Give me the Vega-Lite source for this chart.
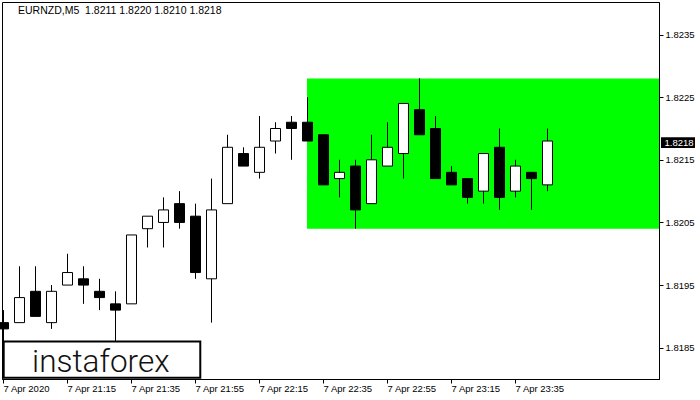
{
  "$schema": "https://vega.github.io/schema/vega-lite/v6.json",
  "width": 657,
  "height": 377,
  "autosize": {"type": "none"},
  "padding": {"left": 2, "top": 2, "right": 41, "bottom": 21},
  "background": "white",
  "config": {
    "view": {"stroke": "black", "strokeWidth": 1},
    "axis": {"domainColor": "black", "tickColor": "black", "labelColor": "black", "labelFont": "Liberation Sans", "labelFontSize": 9.5, "grid": false, "tickWidth": 1, "domainWidth": 1}
  },
  "layer": [
    {
      "data": {"values": [{"t0": "2020-04-07T22:30:00Z", "t1": "2020-04-08T00:20:00Z", "p0": 1.8204, "p1": 1.8228}]},
      "mark": {"type": "rect", "fill": "#00ff00", "strokeWidth": 0},
      "encoding": {
        "x": {
          "field": "t0", "type": "temporal", "title": null,
          "scale": {"type": "utc", "padding": 0, "domain": [
            {"year": 2020, "month": 4, "date": 7, "hours": 20, "minutes": 54, "seconds": 41, "milliseconds": 250, "utc": true},
            {"year": 2020, "month": 4, "date": 8, "hours": 0, "minutes": 20, "seconds": 0, "utc": true}
          ]},
          "axis": {
            "orient": "bottom",
            "values": [
              {"year": 2020, "month": 4, "date": 7, "hours": 20, "minutes": 55, "utc": true},
              {"year": 2020, "month": 4, "date": 7, "hours": 21, "minutes": 15, "utc": true},
              {"year": 2020, "month": 4, "date": 7, "hours": 21, "minutes": 35, "utc": true},
              {"year": 2020, "month": 4, "date": 7, "hours": 21, "minutes": 55, "utc": true},
              {"year": 2020, "month": 4, "date": 7, "hours": 22, "minutes": 15, "utc": true},
              {"year": 2020, "month": 4, "date": 7, "hours": 22, "minutes": 35, "utc": true},
              {"year": 2020, "month": 4, "date": 7, "hours": 22, "minutes": 55, "utc": true},
              {"year": 2020, "month": 4, "date": 7, "hours": 23, "minutes": 15, "utc": true},
              {"year": 2020, "month": 4, "date": 7, "hours": 23, "minutes": 35, "utc": true}
            ],
            "labelExpr": "utcFormat(datum.value, '%H:%M') == '20:55' ? '7 Apr 2020' : utcFormat(datum.value, '%-d %b %H:%M')",
            "tickSize": 4,
            "labelAlign": "left",
            "labelBaseline": "top",
            "labelPadding": 0,
            "labelFlush": false,
            "labelOverlap": false
          }
        },
        "x2": {"field": "t1"},
        "y": {
          "field": "p0", "type": "quantitative", "title": null,
          "scale": {"domain": [1.818, 1.82402], "nice": false, "zero": false, "padding": 0},
          "axis": {
            "orient": "right",
            "values": [1.8185, 1.8195, 1.8205, 1.8215, 1.8225, 1.8235],
            "format": ".4f",
            "tickSize": 4,
            "labelPadding": 2,
            "labelAlign": "left",
            "labelOverlap": false,
            "labelFlush": false
          }
        },
        "y2": {"field": "p1"}
      }
    },
    {
      "mark": {"type": "rule", "color": "black", "strokeWidth": 1},
      "encoding": {"y": {"datum": 1.8218}}
    },
    {
      "data": {"name": "candles", "values": [
        {"t": "2020-04-07T20:55:00Z", "o": 1.8189, "h": 1.8191, "l": 1.8186, "c": 1.8188},
        {"t": "2020-04-07T21:00:00Z", "o": 1.8189, "h": 1.8198, "l": 1.8189, "c": 1.8193},
        {"t": "2020-04-07T21:05:00Z", "o": 1.8194, "h": 1.8198, "l": 1.8190, "c": 1.8190},
        {"t": "2020-04-07T21:10:00Z", "o": 1.8189, "h": 1.8195, "l": 1.8188, "c": 1.8194},
        {"t": "2020-04-07T21:15:00Z", "o": 1.8195, "h": 1.8200, "l": 1.8195, "c": 1.8197},
        {"t": "2020-04-07T21:20:00Z", "o": 1.8196, "h": 1.8198, "l": 1.8192, "c": 1.8195},
        {"t": "2020-04-07T21:25:00Z", "o": 1.8194, "h": 1.8196, "l": 1.8191, "c": 1.8193},
        {"t": "2020-04-07T21:30:00Z", "o": 1.8192, "h": 1.8194, "l": 1.8185, "c": 1.8191},
        {"t": "2020-04-07T21:35:00Z", "o": 1.8192, "h": 1.8203, "l": 1.8192, "c": 1.8203},
        {"t": "2020-04-07T21:40:00Z", "o": 1.8204, "h": 1.8206, "l": 1.8201, "c": 1.8206},
        {"t": "2020-04-07T21:45:00Z", "o": 1.8205, "h": 1.8209, "l": 1.8201, "c": 1.8207},
        {"t": "2020-04-07T21:50:00Z", "o": 1.8208, "h": 1.8210, "l": 1.8204, "c": 1.8205},
        {"t": "2020-04-07T21:55:00Z", "o": 1.8206, "h": 1.8208, "l": 1.8196, "c": 1.8197},
        {"t": "2020-04-07T22:00:00Z", "o": 1.8196, "h": 1.8212, "l": 1.8189, "c": 1.8207},
        {"t": "2020-04-07T22:05:00Z", "o": 1.8208, "h": 1.8219, "l": 1.8208, "c": 1.8217},
        {"t": "2020-04-07T22:10:00Z", "o": 1.8216, "h": 1.8217, "l": 1.8214, "c": 1.8214},
        {"t": "2020-04-07T22:15:00Z", "o": 1.8213, "h": 1.8222, "l": 1.8212, "c": 1.8217},
        {"t": "2020-04-07T22:20:00Z", "o": 1.8218, "h": 1.8221, "l": 1.8216, "c": 1.8220},
        {"t": "2020-04-07T22:25:00Z", "o": 1.8221, "h": 1.8222, "l": 1.8215, "c": 1.8220},
        {"t": "2020-04-07T22:30:00Z", "o": 1.8221, "h": 1.8225, "l": 1.8218, "c": 1.8218},
        {"t": "2020-04-07T22:35:00Z", "o": 1.8219, "h": 1.8219, "l": 1.8211, "c": 1.8211},
        {"t": "2020-04-07T22:40:00Z", "o": 1.8212, "h": 1.8215, "l": 1.8209, "c": 1.8213},
        {"t": "2020-04-07T22:45:00Z", "o": 1.8214, "h": 1.8215, "l": 1.8204, "c": 1.8207},
        {"t": "2020-04-07T22:50:00Z", "o": 1.8208, "h": 1.8219, "l": 1.8208, "c": 1.8215},
        {"t": "2020-04-07T22:55:00Z", "o": 1.8214, "h": 1.8221, "l": 1.8214, "c": 1.8217},
        {"t": "2020-04-07T23:00:00Z", "o": 1.8216, "h": 1.8224, "l": 1.8212, "c": 1.8224},
        {"t": "2020-04-07T23:05:00Z", "o": 1.8223, "h": 1.8228, "l": 1.8219, "c": 1.8219},
        {"t": "2020-04-07T23:10:00Z", "o": 1.8220, "h": 1.8222, "l": 1.8212, "c": 1.8212},
        {"t": "2020-04-07T23:15:00Z", "o": 1.8213, "h": 1.8214, "l": 1.8211, "c": 1.8211},
        {"t": "2020-04-07T23:20:00Z", "o": 1.8212, "h": 1.8212, "l": 1.8208, "c": 1.8209},
        {"t": "2020-04-07T23:25:00Z", "o": 1.8210, "h": 1.8216, "l": 1.8208, "c": 1.8216},
        {"t": "2020-04-07T23:30:00Z", "o": 1.8217, "h": 1.8220, "l": 1.8207, "c": 1.8209},
        {"t": "2020-04-07T23:35:00Z", "o": 1.8210, "h": 1.8215, "l": 1.8209, "c": 1.8214},
        {"t": "2020-04-07T23:40:00Z", "o": 1.8213, "h": 1.8213, "l": 1.8207, "c": 1.8212},
        {"t": "2020-04-07T23:45:00Z", "o": 1.8211, "h": 1.8220, "l": 1.8210, "c": 1.8218}
      ]},
      "layer": [
        {
          "mark": {"type": "rule", "color": "black", "strokeWidth": 1, "xOffset": 0.5},
          "encoding": {
            "x": {"field": "t", "type": "temporal"},
            "y": {"field": "l", "type": "quantitative"},
            "y2": {"field": "h"}
          }
        },
        {
          "mark": {"type": "bar", "width": 10, "stroke": "black", "strokeWidth": 1, "xOffset": 0.5},
          "encoding": {
            "x": {"field": "t", "type": "temporal"},
            "y": {"field": "o", "type": "quantitative"},
            "y2": {"field": "c"},
            "fill": {"condition": {"test": "datum.c >= datum.o", "value": "white"}, "value": "black"}
          }
        }
      ]
    },
    {
      "data": {"values": [{"t0": "2020-04-07T20:55:13Z", "t1": "2020-04-07T21:56:39Z", "p0": 1.81802, "p1": 1.8186}]},
      "mark": {"type": "rect", "fill": "white", "stroke": "black", "strokeWidth": 2},
      "encoding": {
        "x": {"field": "t0", "type": "temporal"},
        "x2": {"field": "t1"},
        "y": {"field": "p0", "type": "quantitative"},
        "y2": {"field": "p1"}
      }
    },
    {
      "data": {"values": [{"t": "2020-04-07T21:25:34Z", "p": 1.81811, "label": "instaforex"}]},
      "mark": {"type": "text", "font": "Roboto", "fontWeight": 300, "fontSize": 31.5, "align": "center", "baseline": "alphabetic", "color": "#111111"},
      "encoding": {
        "x": {"field": "t", "type": "temporal"},
        "y": {"field": "p", "type": "quantitative"},
        "text": {"field": "label"}
      }
    },
    {
      "data": {"values": [{"t": "2020-04-07T20:59:41Z", "p": 1.82388, "label": "EURNZD,M5\u00a0 1.8211 1.8220 1.8210 1.8218"}]},
      "mark": {"type": "text", "font": "Liberation Sans", "fontSize": 10.5, "align": "left", "baseline": "middle", "color": "black"},
      "encoding": {
        "x": {"field": "t", "type": "temporal"},
        "y": {"field": "p", "type": "quantitative"},
        "text": {"field": "label"}
      }
    },
    {
      "data": {"values": [{"t0": "2020-04-08T00:20:37Z", "t1": "2020-04-08T00:31:15Z", "p0": 1.82169, "p1": 1.82186}]},
      "mark": {"type": "rect", "fill": "black", "clip": false},
      "encoding": {
        "x": {"field": "t0", "type": "temporal"},
        "x2": {"field": "t1"},
        "y": {"field": "p0", "type": "quantitative"},
        "y2": {"field": "p1"}
      }
    },
    {
      "data": {"values": [{"t": "2020-04-08T00:26:15Z", "p": 1.82177, "label": "1.8218"}]},
      "mark": {"type": "text", "font": "Liberation Sans", "fontSize": 9.5, "align": "center", "baseline": "middle", "color": "white", "clip": false},
      "encoding": {
        "x": {"field": "t", "type": "temporal"},
        "y": {"field": "p", "type": "quantitative"},
        "text": {"field": "label"}
      }
    }
  ]
}
